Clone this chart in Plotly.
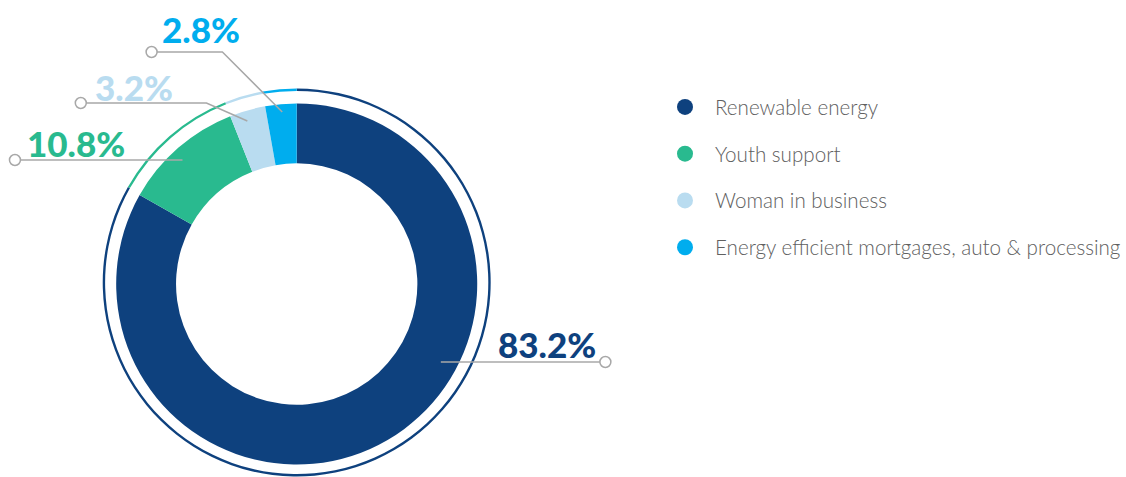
import plotly.graph_objects as go

# ---- data ----
categories = ["Renewable energy", "Youth support", "Woman in business",
              "Energy efficient mortgages, auto & processing"]
shares = [83.2, 10.8, 3.2, 2.8]
label_texts = ["83.2%", "10.8%", "3.2%", "2.8%"]
colors = ["#0E417E", "#29BA8F", "#B9DCF0", "#00ADEE"]

# ---- layout constants (pixels) ----
W, H = 1126, 477
CX, CY = 297.5, 284.0
R_OUT, R_IN = 181.0, 121.0
RING_TOP = 88.0
LINE_COLOR = "#A8A8A8"

# label placement (left x, center y) and leader paths (pixel points)
label_pos = [(497, 344), (25, 143), (93, 87), (160, 29)]
leader_paths = [
    [(442, 362), (607, 362)],
    [(183, 160), (15, 160)],
    [(248, 121), (207, 103), (81, 103)],
    [(283, 112), (223, 52), (152, 52)],
]


def px(x):
    return x / W


def py(y):
    return 1 - y / H


fig = go.Figure()

# thin outer ring
ring_r = (H - RING_TOP) / 2
fig.add_trace(go.Pie(
    values=shares, labels=categories, sort=False, direction="clockwise",
    rotation=0, hole=(ring_r - 2.4) / ring_r,
    marker=dict(colors=colors, line=dict(width=0)),
    textinfo="none", hoverinfo="skip", showlegend=False,
    domain=dict(x=[px(CX - ring_r), px(CX + ring_r)], y=[0, py(RING_TOP)]),
))

# main donut
fig.add_trace(go.Pie(
    values=shares, labels=categories, sort=False, direction="clockwise",
    rotation=0, hole=R_IN / R_OUT,
    marker=dict(colors=colors, line=dict(width=0)),
    textinfo="none", showlegend=False,
    domain=dict(x=[px(CX - R_OUT), px(CX + R_OUT)],
                y=[py(CY + R_OUT), py(CY - R_OUT)]),
))

# legend entries (circle markers)
for cat, col in zip(categories, colors):
    fig.add_trace(go.Scatter(
        x=[None], y=[None], mode="markers", name=cat, legendgroup=cat,
        marker=dict(symbol="circle", size=18, color=col),
    ))

shapes = []
annotations = []
for (lx, ly), txt, col, path in zip(label_pos, label_texts, colors, leader_paths):
    annotations.append(dict(
        x=px(lx), y=py(ly), xref="paper", yref="paper", xanchor="left",
        yanchor="middle", text=txt, showarrow=False,
        font=dict(family="Lato", size=35, color=col, weight=900),
    ))
    d = "M " + " L ".join("%f,%f" % (px(x), py(y)) for x, y in path)
    shapes.append(dict(type="path", path=d, xref="paper", yref="paper",
                       line=dict(color=LINE_COLOR, width=1.5), layer="above"))
    ex, ey = path[-1]
    shapes.append(dict(type="circle", xref="paper", yref="paper",
                       x0=px(ex - 5.5), x1=px(ex + 5.5), y0=py(ey + 5.5), y1=py(ey - 5.5),
                       line=dict(color=LINE_COLOR, width=1.5), fillcolor="white",
                       layer="above"))

fig.update_layout(
    width=W, height=H,
    margin=dict(l=0, r=0, t=0, b=0),
    paper_bgcolor="white", plot_bgcolor="white",
    xaxis=dict(visible=False, range=[0, 1]),
    yaxis=dict(visible=False, range=[0, 1]),
    shapes=shapes, annotations=annotations,
    showlegend=True,
    legend=dict(
        x=px(657), y=py(87), xanchor="left", yanchor="top",
        font=dict(family="Lato", size=20.6, color="#606060", weight=300),
        tracegroupgap=17, itemwidth=50, bgcolor="rgba(0,0,0,0)",
    ),
    font=dict(family="Lato"),
)

fig.write_html("out.html", config={"displayModeBar": False},
               post_script="document.body.style.margin='0px';"
                           "document.body.style.overflow='hidden';")
